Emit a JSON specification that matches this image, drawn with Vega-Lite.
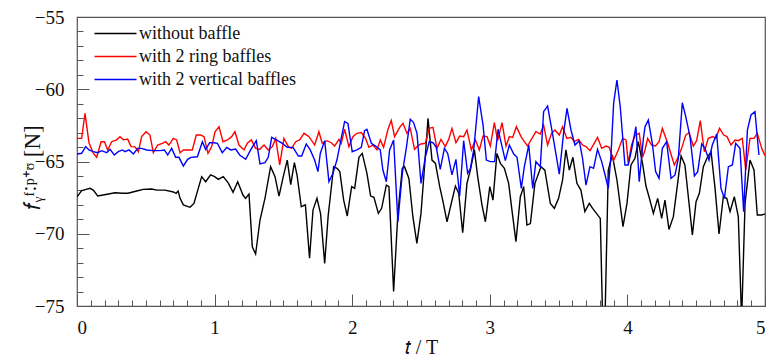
{
  "$schema": "https://vega.github.io/schema/vega-lite/v6.json",
  "width": 688,
  "height": 289,
  "autosize": "none",
  "padding": {"left": 77, "top": 17, "right": 7, "bottom": 54},
  "background": "white",
  "config": {
    "view": {"stroke": "#555555", "strokeWidth": 1.2},
    "font": "Liberation Serif",
    "axis": {
      "domain": false,
      "grid": false,
      "tickColor": "#555555",
      "tickWidth": 1,
      "labelFont": "Liberation Serif",
      "labelFontSize": 19,
      "labelColor": "#111111",
      "titleFont": "Liberation Serif",
      "titleFontSize": 20,
      "titleFontWeight": "normal",
      "titleColor": "#111111"
    },
    "legend": {
      "labelFont": "Liberation Serif",
      "labelFontSize": 18,
      "labelColor": "#111111"
    }
  },
  "data": {
    "values": [
      {"t":0.0,"v":-67.45,"s":"without baffle"},{"t":0.034,"v":-67.02,"s":"without baffle"},{"t":0.06,"v":-66.95,"s":"without baffle"},{"t":0.095,"v":-66.86,"s":"without baffle"},{"t":0.12,"v":-67.0,"s":"without baffle"},{"t":0.15,"v":-67.39,"s":"without baffle"},{"t":0.2,"v":-67.3,"s":"without baffle"},{"t":0.276,"v":-67.16,"s":"without baffle"},{"t":0.33,"v":-67.2,"s":"without baffle"},{"t":0.37,"v":-67.2,"s":"without baffle"},{"t":0.434,"v":-67.04,"s":"without baffle"},{"t":0.482,"v":-66.93,"s":"without baffle"},{"t":0.543,"v":-66.9,"s":"without baffle"},{"t":0.58,"v":-66.98,"s":"without baffle"},{"t":0.64,"v":-66.98,"s":"without baffle"},{"t":0.7,"v":-67.11,"s":"without baffle"},{"t":0.72,"v":-67.2,"s":"without baffle"},{"t":0.735,"v":-67.05,"s":"without baffle"},{"t":0.749,"v":-67.55,"s":"without baffle"},{"t":0.773,"v":-68.0,"s":"without baffle"},{"t":0.821,"v":-68.17,"s":"without baffle"},{"t":0.85,"v":-67.9,"s":"without baffle"},{"t":0.906,"v":-66.05,"s":"without baffle"},{"t":0.935,"v":-66.4,"s":"without baffle"},{"t":0.971,"v":-65.93,"s":"without baffle"},{"t":1.0,"v":-66.05,"s":"without baffle"},{"t":1.027,"v":-66.24,"s":"without baffle"},{"t":1.063,"v":-66.05,"s":"without baffle"},{"t":1.1,"v":-66.5,"s":"without baffle"},{"t":1.134,"v":-67.13,"s":"without baffle"},{"t":1.168,"v":-66.4,"s":"without baffle"},{"t":1.206,"v":-67.32,"s":"without baffle"},{"t":1.225,"v":-67.55,"s":"without baffle"},{"t":1.25,"v":-67.25,"s":"without baffle"},{"t":1.274,"v":-70.9,"s":"without baffle"},{"t":1.298,"v":-71.4,"s":"without baffle"},{"t":1.33,"v":-69.05,"s":"without baffle"},{"t":1.366,"v":-67.55,"s":"without baffle"},{"t":1.407,"v":-65.36,"s":"without baffle"},{"t":1.439,"v":-66.05,"s":"without baffle"},{"t":1.468,"v":-67.39,"s":"without baffle"},{"t":1.499,"v":-66.05,"s":"without baffle"},{"t":1.528,"v":-64.9,"s":"without baffle"},{"t":1.553,"v":-66.6,"s":"without baffle"},{"t":1.58,"v":-65.08,"s":"without baffle"},{"t":1.6,"v":-66.0,"s":"without baffle"},{"t":1.63,"v":-68.13,"s":"without baffle"},{"t":1.66,"v":-68.0,"s":"without baffle"},{"t":1.69,"v":-71.7,"s":"without baffle"},{"t":1.715,"v":-68.36,"s":"without baffle"},{"t":1.744,"v":-67.55,"s":"without baffle"},{"t":1.77,"v":-68.6,"s":"without baffle"},{"t":1.8,"v":-72.05,"s":"without baffle"},{"t":1.825,"v":-68.8,"s":"without baffle"},{"t":1.865,"v":-65.36,"s":"without baffle"},{"t":1.89,"v":-65.47,"s":"without baffle"},{"t":1.91,"v":-65.7,"s":"without baffle"},{"t":1.938,"v":-67.67,"s":"without baffle"},{"t":1.964,"v":-68.77,"s":"without baffle"},{"t":1.996,"v":-66.74,"s":"without baffle"},{"t":2.018,"v":-66.86,"s":"without baffle"},{"t":2.049,"v":-64.71,"s":"without baffle"},{"t":2.073,"v":-64.44,"s":"without baffle"},{"t":2.107,"v":-65.82,"s":"without baffle"},{"t":2.134,"v":-67.39,"s":"without baffle"},{"t":2.158,"v":-67.48,"s":"without baffle"},{"t":2.19,"v":-68.59,"s":"without baffle"},{"t":2.214,"v":-68.24,"s":"without baffle"},{"t":2.248,"v":-66.63,"s":"without baffle"},{"t":2.267,"v":-66.74,"s":"without baffle"},{"t":2.301,"v":-74.0,"s":"without baffle"},{"t":2.332,"v":-68.59,"s":"without baffle"},{"t":2.364,"v":-65.47,"s":"without baffle"},{"t":2.38,"v":-65.36,"s":"without baffle"},{"t":2.412,"v":-66.17,"s":"without baffle"},{"t":2.441,"v":-68.82,"s":"without baffle"},{"t":2.47,"v":-70.67,"s":"without baffle"},{"t":2.5,"v":-68.59,"s":"without baffle"},{"t":2.524,"v":-65.59,"s":"without baffle"},{"t":2.551,"v":-62.02,"s":"without baffle"},{"t":2.58,"v":-64.9,"s":"without baffle"},{"t":2.605,"v":-65.13,"s":"without baffle"},{"t":2.636,"v":-66.74,"s":"without baffle"},{"t":2.66,"v":-67.78,"s":"without baffle"},{"t":2.689,"v":-69.17,"s":"without baffle"},{"t":2.72,"v":-67.9,"s":"without baffle"},{"t":2.75,"v":-66.7,"s":"without baffle"},{"t":2.774,"v":-67.2,"s":"without baffle"},{"t":2.803,"v":-69.93,"s":"without baffle"},{"t":2.834,"v":-66.51,"s":"without baffle"},{"t":2.859,"v":-65.59,"s":"without baffle"},{"t":2.888,"v":-64.2,"s":"without baffle"},{"t":2.912,"v":-66.05,"s":"without baffle"},{"t":2.943,"v":-68.0,"s":"without baffle"},{"t":2.968,"v":-69.17,"s":"without baffle"},{"t":3.0,"v":-66.74,"s":"without baffle"},{"t":3.023,"v":-67.67,"s":"without baffle"},{"t":3.052,"v":-64.44,"s":"without baffle"},{"t":3.077,"v":-65.13,"s":"without baffle"},{"t":3.106,"v":-65.47,"s":"without baffle"},{"t":3.137,"v":-66.51,"s":"without baffle"},{"t":3.161,"v":-68.36,"s":"without baffle"},{"t":3.19,"v":-70.55,"s":"without baffle"},{"t":3.222,"v":-67.44,"s":"without baffle"},{"t":3.246,"v":-66.74,"s":"without baffle"},{"t":3.27,"v":-69.4,"s":"without baffle"},{"t":3.295,"v":-69.3,"s":"without baffle"},{"t":3.328,"v":-66.51,"s":"without baffle"},{"t":3.372,"v":-65.36,"s":"without baffle"},{"t":3.4,"v":-65.6,"s":"without baffle"},{"t":3.44,"v":-67.9,"s":"without baffle"},{"t":3.469,"v":-68.24,"s":"without baffle"},{"t":3.5,"v":-67.55,"s":"without baffle"},{"t":3.529,"v":-66.28,"s":"without baffle"},{"t":3.553,"v":-64.2,"s":"without baffle"},{"t":3.578,"v":-65.59,"s":"without baffle"},{"t":3.604,"v":-64.71,"s":"without baffle"},{"t":3.633,"v":-66.51,"s":"without baffle"},{"t":3.662,"v":-66.98,"s":"without baffle"},{"t":3.691,"v":-68.47,"s":"without baffle"},{"t":3.723,"v":-67.9,"s":"without baffle"},{"t":3.747,"v":-68.24,"s":"without baffle"},{"t":3.771,"v":-68.54,"s":"without baffle"},{"t":3.803,"v":-68.94,"s":"without baffle"},{"t":3.82,"v":-76.0,"s":"without baffle"},{"t":3.837,"v":-76.0,"s":"without baffle"},{"t":3.861,"v":-65.59,"s":"without baffle"},{"t":3.89,"v":-64.55,"s":"without baffle"},{"t":3.924,"v":-66.28,"s":"without baffle"},{"t":3.968,"v":-69.51,"s":"without baffle"},{"t":3.997,"v":-67.9,"s":"without baffle"},{"t":4.026,"v":-65.24,"s":"without baffle"},{"t":4.055,"v":-64.78,"s":"without baffle"},{"t":4.079,"v":-63.63,"s":"without baffle"},{"t":4.11,"v":-65.13,"s":"without baffle"},{"t":4.135,"v":-66.7,"s":"without baffle"},{"t":4.157,"v":-67.44,"s":"without baffle"},{"t":4.189,"v":-68.59,"s":"without baffle"},{"t":4.22,"v":-67.55,"s":"without baffle"},{"t":4.249,"v":-68.94,"s":"without baffle"},{"t":4.273,"v":-67.67,"s":"without baffle"},{"t":4.302,"v":-69.7,"s":"without baffle"},{"t":4.334,"v":-68.82,"s":"without baffle"},{"t":4.365,"v":-66.51,"s":"without baffle"},{"t":4.39,"v":-64.62,"s":"without baffle"},{"t":4.418,"v":-65.24,"s":"without baffle"},{"t":4.448,"v":-67.9,"s":"without baffle"},{"t":4.472,"v":-70.09,"s":"without baffle"},{"t":4.499,"v":-67.78,"s":"without baffle"},{"t":4.523,"v":-67.2,"s":"without baffle"},{"t":4.552,"v":-65.36,"s":"without baffle"},{"t":4.583,"v":-64.67,"s":"without baffle"},{"t":4.608,"v":-64.32,"s":"without baffle"},{"t":4.637,"v":-66.86,"s":"without baffle"},{"t":4.666,"v":-70.02,"s":"without baffle"},{"t":4.697,"v":-67.44,"s":"without baffle"},{"t":4.722,"v":-67.55,"s":"without baffle"},{"t":4.746,"v":-68.47,"s":"without baffle"},{"t":4.777,"v":-67.44,"s":"without baffle"},{"t":4.806,"v":-68.82,"s":"without baffle"},{"t":4.83,"v":-76.0,"s":"without baffle"},{"t":4.855,"v":-67.9,"s":"without baffle"},{"t":4.891,"v":-64.9,"s":"without baffle"},{"t":4.92,"v":-65.59,"s":"without baffle"},{"t":4.944,"v":-68.7,"s":"without baffle"},{"t":4.976,"v":-68.7,"s":"without baffle"},{"t":5.0,"v":-68.63,"s":"without baffle"},

      {"t":0.0,"v":-63.4,"s":"with 2 ring baffles"},{"t":0.034,"v":-63.4,"s":"with 2 ring baffles"},{"t":0.058,"v":-61.67,"s":"with 2 ring baffles"},{"t":0.087,"v":-63.7,"s":"with 2 ring baffles"},{"t":0.119,"v":-64.44,"s":"with 2 ring baffles"},{"t":0.143,"v":-64.71,"s":"with 2 ring baffles"},{"t":0.175,"v":-63.63,"s":"with 2 ring baffles"},{"t":0.2,"v":-63.63,"s":"with 2 ring baffles"},{"t":0.223,"v":-64.2,"s":"with 2 ring baffles"},{"t":0.252,"v":-63.63,"s":"with 2 ring baffles"},{"t":0.288,"v":-63.5,"s":"with 2 ring baffles"},{"t":0.313,"v":-63.28,"s":"with 2 ring baffles"},{"t":0.337,"v":-63.5,"s":"with 2 ring baffles"},{"t":0.368,"v":-63.45,"s":"with 2 ring baffles"},{"t":0.393,"v":-63.97,"s":"with 2 ring baffles"},{"t":0.422,"v":-63.99,"s":"with 2 ring baffles"},{"t":0.446,"v":-64.32,"s":"with 2 ring baffles"},{"t":0.47,"v":-63.28,"s":"with 2 ring baffles"},{"t":0.502,"v":-62.94,"s":"with 2 ring baffles"},{"t":0.53,"v":-63.17,"s":"with 2 ring baffles"},{"t":0.555,"v":-64.39,"s":"with 2 ring baffles"},{"t":0.586,"v":-63.86,"s":"with 2 ring baffles"},{"t":0.62,"v":-63.74,"s":"with 2 ring baffles"},{"t":0.644,"v":-63.63,"s":"with 2 ring baffles"},{"t":0.668,"v":-63.86,"s":"with 2 ring baffles"},{"t":0.7,"v":-63.4,"s":"with 2 ring baffles"},{"t":0.724,"v":-63.51,"s":"with 2 ring baffles"},{"t":0.749,"v":-64.39,"s":"with 2 ring baffles"},{"t":0.773,"v":-64.2,"s":"with 2 ring baffles"},{"t":0.821,"v":-64.2,"s":"with 2 ring baffles"},{"t":0.838,"v":-64.2,"s":"with 2 ring baffles"},{"t":0.867,"v":-63.17,"s":"with 2 ring baffles"},{"t":0.899,"v":-63.17,"s":"with 2 ring baffles"},{"t":0.923,"v":-63.28,"s":"with 2 ring baffles"},{"t":0.952,"v":-64.44,"s":"with 2 ring baffles"},{"t":0.979,"v":-63.97,"s":"with 2 ring baffles"},{"t":1.003,"v":-62.94,"s":"with 2 ring baffles"},{"t":1.032,"v":-62.59,"s":"with 2 ring baffles"},{"t":1.061,"v":-63.63,"s":"with 2 ring baffles"},{"t":1.093,"v":-63.51,"s":"with 2 ring baffles"},{"t":1.124,"v":-63.28,"s":"with 2 ring baffles"},{"t":1.148,"v":-62.94,"s":"with 2 ring baffles"},{"t":1.177,"v":-63.86,"s":"with 2 ring baffles"},{"t":1.214,"v":-64.2,"s":"with 2 ring baffles"},{"t":1.238,"v":-63.74,"s":"with 2 ring baffles"},{"t":1.267,"v":-63.51,"s":"with 2 ring baffles"},{"t":1.298,"v":-64.09,"s":"with 2 ring baffles"},{"t":1.328,"v":-64.16,"s":"with 2 ring baffles"},{"t":1.359,"v":-63.86,"s":"with 2 ring baffles"},{"t":1.39,"v":-64.2,"s":"with 2 ring baffles"},{"t":1.42,"v":-63.97,"s":"with 2 ring baffles"},{"t":1.444,"v":-63.4,"s":"with 2 ring baffles"},{"t":1.473,"v":-65.24,"s":"with 2 ring baffles"},{"t":1.504,"v":-63.4,"s":"with 2 ring baffles"},{"t":1.536,"v":-63.97,"s":"with 2 ring baffles"},{"t":1.56,"v":-64.09,"s":"with 2 ring baffles"},{"t":1.589,"v":-63.63,"s":"with 2 ring baffles"},{"t":1.618,"v":-63.51,"s":"with 2 ring baffles"},{"t":1.65,"v":-63.05,"s":"with 2 ring baffles"},{"t":1.686,"v":-63.28,"s":"with 2 ring baffles"},{"t":1.727,"v":-63.86,"s":"with 2 ring baffles"},{"t":1.758,"v":-62.94,"s":"with 2 ring baffles"},{"t":1.782,"v":-63.74,"s":"with 2 ring baffles"},{"t":1.816,"v":-63.56,"s":"with 2 ring baffles"},{"t":1.848,"v":-63.7,"s":"with 2 ring baffles"},{"t":1.872,"v":-63.93,"s":"with 2 ring baffles"},{"t":1.904,"v":-63.47,"s":"with 2 ring baffles"},{"t":1.92,"v":-63.74,"s":"with 2 ring baffles"},{"t":1.945,"v":-62.77,"s":"with 2 ring baffles"},{"t":1.976,"v":-63.97,"s":"with 2 ring baffles"},{"t":2.005,"v":-63.28,"s":"with 2 ring baffles"},{"t":2.034,"v":-63.05,"s":"with 2 ring baffles"},{"t":2.066,"v":-63.0,"s":"with 2 ring baffles"},{"t":2.097,"v":-63.4,"s":"with 2 ring baffles"},{"t":2.121,"v":-64.02,"s":"with 2 ring baffles"},{"t":2.15,"v":-63.86,"s":"with 2 ring baffles"},{"t":2.18,"v":-64.2,"s":"with 2 ring baffles"},{"t":2.204,"v":-63.51,"s":"with 2 ring baffles"},{"t":2.228,"v":-64.02,"s":"with 2 ring baffles"},{"t":2.26,"v":-62.77,"s":"with 2 ring baffles"},{"t":2.284,"v":-62.17,"s":"with 2 ring baffles"},{"t":2.308,"v":-63.28,"s":"with 2 ring baffles"},{"t":2.345,"v":-62.64,"s":"with 2 ring baffles"},{"t":2.369,"v":-62.36,"s":"with 2 ring baffles"},{"t":2.398,"v":-63.05,"s":"with 2 ring baffles"},{"t":2.422,"v":-62.71,"s":"with 2 ring baffles"},{"t":2.453,"v":-64.16,"s":"with 2 ring baffles"},{"t":2.48,"v":-63.9,"s":"with 2 ring baffles"},{"t":2.5,"v":-63.79,"s":"with 2 ring baffles"},{"t":2.532,"v":-63.74,"s":"with 2 ring baffles"},{"t":2.56,"v":-62.71,"s":"with 2 ring baffles"},{"t":2.587,"v":-62.64,"s":"with 2 ring baffles"},{"t":2.616,"v":-64.09,"s":"with 2 ring baffles"},{"t":2.645,"v":-63.47,"s":"with 2 ring baffles"},{"t":2.677,"v":-63.97,"s":"with 2 ring baffles"},{"t":2.701,"v":-63.47,"s":"with 2 ring baffles"},{"t":2.725,"v":-62.71,"s":"with 2 ring baffles"},{"t":2.754,"v":-63.7,"s":"with 2 ring baffles"},{"t":2.781,"v":-63.24,"s":"with 2 ring baffles"},{"t":2.81,"v":-63.28,"s":"with 2 ring baffles"},{"t":2.834,"v":-62.82,"s":"with 2 ring baffles"},{"t":2.866,"v":-64.2,"s":"with 2 ring baffles"},{"t":2.895,"v":-63.51,"s":"with 2 ring baffles"},{"t":2.924,"v":-64.2,"s":"with 2 ring baffles"},{"t":2.951,"v":-63.24,"s":"with 2 ring baffles"},{"t":2.98,"v":-63.28,"s":"with 2 ring baffles"},{"t":3.004,"v":-63.93,"s":"with 2 ring baffles"},{"t":3.033,"v":-62.31,"s":"with 2 ring baffles"},{"t":3.057,"v":-63.56,"s":"with 2 ring baffles"},{"t":3.089,"v":-62.31,"s":"with 2 ring baffles"},{"t":3.118,"v":-63.93,"s":"with 2 ring baffles"},{"t":3.142,"v":-63.28,"s":"with 2 ring baffles"},{"t":3.166,"v":-63.33,"s":"with 2 ring baffles"},{"t":3.193,"v":-62.59,"s":"with 2 ring baffles"},{"t":3.227,"v":-63.28,"s":"with 2 ring baffles"},{"t":3.251,"v":-63.63,"s":"with 2 ring baffles"},{"t":3.275,"v":-63.93,"s":"with 2 ring baffles"},{"t":3.3,"v":-63.5,"s":"with 2 ring baffles"},{"t":3.335,"v":-62.94,"s":"with 2 ring baffles"},{"t":3.367,"v":-63.1,"s":"with 2 ring baffles"},{"t":3.391,"v":-62.48,"s":"with 2 ring baffles"},{"t":3.42,"v":-63.86,"s":"with 2 ring baffles"},{"t":3.449,"v":-63.05,"s":"with 2 ring baffles"},{"t":3.473,"v":-62.82,"s":"with 2 ring baffles"},{"t":3.505,"v":-63.17,"s":"with 2 ring baffles"},{"t":3.529,"v":-62.59,"s":"with 2 ring baffles"},{"t":3.56,"v":-63.4,"s":"with 2 ring baffles"},{"t":3.59,"v":-63.33,"s":"with 2 ring baffles"},{"t":3.614,"v":-63.63,"s":"with 2 ring baffles"},{"t":3.643,"v":-63.47,"s":"with 2 ring baffles"},{"t":3.674,"v":-63.86,"s":"with 2 ring baffles"},{"t":3.699,"v":-63.97,"s":"with 2 ring baffles"},{"t":3.728,"v":-64.25,"s":"with 2 ring baffles"},{"t":3.759,"v":-63.74,"s":"with 2 ring baffles"},{"t":3.783,"v":-63.33,"s":"with 2 ring baffles"},{"t":3.813,"v":-64.09,"s":"with 2 ring baffles"},{"t":3.844,"v":-63.93,"s":"with 2 ring baffles"},{"t":3.868,"v":-64.02,"s":"with 2 ring baffles"},{"t":3.9,"v":-64.94,"s":"with 2 ring baffles"},{"t":3.934,"v":-64.2,"s":"with 2 ring baffles"},{"t":3.965,"v":-63.4,"s":"with 2 ring baffles"},{"t":3.99,"v":-63.51,"s":"with 2 ring baffles"},{"t":4.006,"v":-65.13,"s":"with 2 ring baffles"},{"t":4.03,"v":-63.86,"s":"with 2 ring baffles"},{"t":4.057,"v":-63.17,"s":"with 2 ring baffles"},{"t":4.086,"v":-63.05,"s":"with 2 ring baffles"},{"t":4.11,"v":-64.71,"s":"with 2 ring baffles"},{"t":4.128,"v":-64.2,"s":"with 2 ring baffles"},{"t":4.147,"v":-63.4,"s":"with 2 ring baffles"},{"t":4.176,"v":-63.86,"s":"with 2 ring baffles"},{"t":4.205,"v":-63.93,"s":"with 2 ring baffles"},{"t":4.23,"v":-63.63,"s":"with 2 ring baffles"},{"t":4.254,"v":-62.71,"s":"with 2 ring baffles"},{"t":4.293,"v":-63.74,"s":"with 2 ring baffles"},{"t":4.317,"v":-64.5,"s":"with 2 ring baffles"},{"t":4.341,"v":-65.24,"s":"with 2 ring baffles"},{"t":4.37,"v":-64.67,"s":"with 2 ring baffles"},{"t":4.394,"v":-64.09,"s":"with 2 ring baffles"},{"t":4.424,"v":-63.17,"s":"with 2 ring baffles"},{"t":4.448,"v":-63.0,"s":"with 2 ring baffles"},{"t":4.479,"v":-63.93,"s":"with 2 ring baffles"},{"t":4.503,"v":-63.56,"s":"with 2 ring baffles"},{"t":4.53,"v":-62.17,"s":"with 2 ring baffles"},{"t":4.559,"v":-64.32,"s":"with 2 ring baffles"},{"t":4.588,"v":-63.4,"s":"with 2 ring baffles"},{"t":4.62,"v":-63.28,"s":"with 2 ring baffles"},{"t":4.641,"v":-63.4,"s":"with 2 ring baffles"},{"t":4.67,"v":-62.71,"s":"with 2 ring baffles"},{"t":4.7,"v":-63.17,"s":"with 2 ring baffles"},{"t":4.724,"v":-63.28,"s":"with 2 ring baffles"},{"t":4.753,"v":-63.86,"s":"with 2 ring baffles"},{"t":4.782,"v":-63.51,"s":"with 2 ring baffles"},{"t":4.806,"v":-63.56,"s":"with 2 ring baffles"},{"t":4.835,"v":-63.4,"s":"with 2 ring baffles"},{"t":4.86,"v":-65.59,"s":"with 2 ring baffles"},{"t":4.891,"v":-63.4,"s":"with 2 ring baffles"},{"t":4.92,"v":-63.4,"s":"with 2 ring baffles"},{"t":4.944,"v":-63.05,"s":"with 2 ring baffles"},{"t":4.976,"v":-64.09,"s":"with 2 ring baffles"},{"t":5.0,"v":-64.6,"s":"with 2 ring baffles"},

      {"t":0.0,"v":-64.48,"s":"with 2 vertical baffles"},{"t":0.034,"v":-64.43,"s":"with 2 vertical baffles"},{"t":0.063,"v":-63.97,"s":"with 2 vertical baffles"},{"t":0.087,"v":-64.2,"s":"with 2 vertical baffles"},{"t":0.119,"v":-64.32,"s":"with 2 vertical baffles"},{"t":0.15,"v":-64.39,"s":"with 2 vertical baffles"},{"t":0.179,"v":-64.25,"s":"with 2 vertical baffles"},{"t":0.216,"v":-64.39,"s":"with 2 vertical baffles"},{"t":0.24,"v":-64.16,"s":"with 2 vertical baffles"},{"t":0.271,"v":-64.55,"s":"with 2 vertical baffles"},{"t":0.3,"v":-64.32,"s":"with 2 vertical baffles"},{"t":0.33,"v":-64.2,"s":"with 2 vertical baffles"},{"t":0.349,"v":-64.32,"s":"with 2 vertical baffles"},{"t":0.378,"v":-64.2,"s":"with 2 vertical baffles"},{"t":0.41,"v":-64.48,"s":"with 2 vertical baffles"},{"t":0.441,"v":-64.09,"s":"with 2 vertical baffles"},{"t":0.47,"v":-64.09,"s":"with 2 vertical baffles"},{"t":0.506,"v":-64.2,"s":"with 2 vertical baffles"},{"t":0.555,"v":-64.25,"s":"with 2 vertical baffles"},{"t":0.603,"v":-64.25,"s":"with 2 vertical baffles"},{"t":0.635,"v":-64.2,"s":"with 2 vertical baffles"},{"t":0.659,"v":-64.55,"s":"with 2 vertical baffles"},{"t":0.688,"v":-64.09,"s":"with 2 vertical baffles"},{"t":0.717,"v":-64.71,"s":"with 2 vertical baffles"},{"t":0.741,"v":-64.71,"s":"with 2 vertical baffles"},{"t":0.773,"v":-65.31,"s":"with 2 vertical baffles"},{"t":0.804,"v":-64.85,"s":"with 2 vertical baffles"},{"t":0.828,"v":-64.71,"s":"with 2 vertical baffles"},{"t":0.875,"v":-64.67,"s":"with 2 vertical baffles"},{"t":0.911,"v":-63.63,"s":"with 2 vertical baffles"},{"t":0.935,"v":-64.16,"s":"with 2 vertical baffles"},{"t":0.964,"v":-63.7,"s":"with 2 vertical baffles"},{"t":0.996,"v":-63.7,"s":"with 2 vertical baffles"},{"t":1.02,"v":-63.74,"s":"with 2 vertical baffles"},{"t":1.056,"v":-64.39,"s":"with 2 vertical baffles"},{"t":1.088,"v":-64.02,"s":"with 2 vertical baffles"},{"t":1.117,"v":-64.2,"s":"with 2 vertical baffles"},{"t":1.153,"v":-64.14,"s":"with 2 vertical baffles"},{"t":1.182,"v":-64.55,"s":"with 2 vertical baffles"},{"t":1.226,"v":-64.85,"s":"with 2 vertical baffles"},{"t":1.262,"v":-64.2,"s":"with 2 vertical baffles"},{"t":1.303,"v":-63.56,"s":"with 2 vertical baffles"},{"t":1.33,"v":-65.17,"s":"with 2 vertical baffles"},{"t":1.366,"v":-65.08,"s":"with 2 vertical baffles"},{"t":1.39,"v":-64.71,"s":"with 2 vertical baffles"},{"t":1.415,"v":-63.33,"s":"with 2 vertical baffles"},{"t":1.449,"v":-63.51,"s":"with 2 vertical baffles"},{"t":1.492,"v":-63.74,"s":"with 2 vertical baffles"},{"t":1.528,"v":-64.02,"s":"with 2 vertical baffles"},{"t":1.57,"v":-64.02,"s":"with 2 vertical baffles"},{"t":1.609,"v":-64.62,"s":"with 2 vertical baffles"},{"t":1.633,"v":-64.62,"s":"with 2 vertical baffles"},{"t":1.666,"v":-63.79,"s":"with 2 vertical baffles"},{"t":1.695,"v":-64.2,"s":"with 2 vertical baffles"},{"t":1.727,"v":-64.9,"s":"with 2 vertical baffles"},{"t":1.751,"v":-65.7,"s":"with 2 vertical baffles"},{"t":1.768,"v":-64.44,"s":"with 2 vertical baffles"},{"t":1.8,"v":-63.56,"s":"with 2 vertical baffles"},{"t":1.831,"v":-66.4,"s":"with 2 vertical baffles"},{"t":1.86,"v":-65.82,"s":"with 2 vertical baffles"},{"t":1.889,"v":-64.9,"s":"with 2 vertical baffles"},{"t":1.92,"v":-63.4,"s":"with 2 vertical baffles"},{"t":1.945,"v":-62.24,"s":"with 2 vertical baffles"},{"t":1.969,"v":-62.36,"s":"with 2 vertical baffles"},{"t":2.0,"v":-64.32,"s":"with 2 vertical baffles"},{"t":2.034,"v":-64.2,"s":"with 2 vertical baffles"},{"t":2.066,"v":-64.02,"s":"with 2 vertical baffles"},{"t":2.09,"v":-62.87,"s":"with 2 vertical baffles"},{"t":2.107,"v":-62.77,"s":"with 2 vertical baffles"},{"t":2.139,"v":-63.74,"s":"with 2 vertical baffles"},{"t":2.17,"v":-63.93,"s":"with 2 vertical baffles"},{"t":2.204,"v":-64.2,"s":"with 2 vertical baffles"},{"t":2.223,"v":-65.59,"s":"with 2 vertical baffles"},{"t":2.248,"v":-66.4,"s":"with 2 vertical baffles"},{"t":2.272,"v":-64.2,"s":"with 2 vertical baffles"},{"t":2.301,"v":-63.51,"s":"with 2 vertical baffles"},{"t":2.332,"v":-69.17,"s":"with 2 vertical baffles"},{"t":2.364,"v":-65.82,"s":"with 2 vertical baffles"},{"t":2.393,"v":-64.09,"s":"with 2 vertical baffles"},{"t":2.422,"v":-62.08,"s":"with 2 vertical baffles"},{"t":2.446,"v":-62.31,"s":"with 2 vertical baffles"},{"t":2.471,"v":-63.05,"s":"with 2 vertical baffles"},{"t":2.5,"v":-66.51,"s":"with 2 vertical baffles"},{"t":2.532,"v":-64.67,"s":"with 2 vertical baffles"},{"t":2.56,"v":-63.63,"s":"with 2 vertical baffles"},{"t":2.587,"v":-63.7,"s":"with 2 vertical baffles"},{"t":2.611,"v":-64.02,"s":"with 2 vertical baffles"},{"t":2.64,"v":-65.54,"s":"with 2 vertical baffles"},{"t":2.67,"v":-64.09,"s":"with 2 vertical baffles"},{"t":2.694,"v":-64.44,"s":"with 2 vertical baffles"},{"t":2.725,"v":-65.93,"s":"with 2 vertical baffles"},{"t":2.754,"v":-64.85,"s":"with 2 vertical baffles"},{"t":2.781,"v":-67.39,"s":"with 2 vertical baffles"},{"t":2.81,"v":-63.56,"s":"with 2 vertical baffles"},{"t":2.839,"v":-65.82,"s":"with 2 vertical baffles"},{"t":2.859,"v":-65.47,"s":"with 2 vertical baffles"},{"t":2.883,"v":-64.2,"s":"with 2 vertical baffles"},{"t":2.919,"v":-60.51,"s":"with 2 vertical baffles"},{"t":2.951,"v":-62.48,"s":"with 2 vertical baffles"},{"t":2.975,"v":-64.9,"s":"with 2 vertical baffles"},{"t":3.004,"v":-65.01,"s":"with 2 vertical baffles"},{"t":3.035,"v":-65.01,"s":"with 2 vertical baffles"},{"t":3.06,"v":-62.77,"s":"with 2 vertical baffles"},{"t":3.089,"v":-63.97,"s":"with 2 vertical baffles"},{"t":3.113,"v":-64.94,"s":"with 2 vertical baffles"},{"t":3.142,"v":-63.86,"s":"with 2 vertical baffles"},{"t":3.174,"v":-64.48,"s":"with 2 vertical baffles"},{"t":3.198,"v":-64.71,"s":"with 2 vertical baffles"},{"t":3.229,"v":-66.86,"s":"with 2 vertical baffles"},{"t":3.251,"v":-65.36,"s":"with 2 vertical baffles"},{"t":3.283,"v":-63.86,"s":"with 2 vertical baffles"},{"t":3.312,"v":-66.86,"s":"with 2 vertical baffles"},{"t":3.335,"v":-65.01,"s":"with 2 vertical baffles"},{"t":3.367,"v":-65.36,"s":"with 2 vertical baffles"},{"t":3.391,"v":-61.55,"s":"with 2 vertical baffles"},{"t":3.42,"v":-61.16,"s":"with 2 vertical baffles"},{"t":3.449,"v":-62.71,"s":"with 2 vertical baffles"},{"t":3.48,"v":-64.44,"s":"with 2 vertical baffles"},{"t":3.505,"v":-65.87,"s":"with 2 vertical baffles"},{"t":3.536,"v":-63.05,"s":"with 2 vertical baffles"},{"t":3.561,"v":-61.32,"s":"with 2 vertical baffles"},{"t":3.59,"v":-62.82,"s":"with 2 vertical baffles"},{"t":3.619,"v":-63.86,"s":"with 2 vertical baffles"},{"t":3.65,"v":-63.56,"s":"with 2 vertical baffles"},{"t":3.674,"v":-64.78,"s":"with 2 vertical baffles"},{"t":3.699,"v":-66.63,"s":"with 2 vertical baffles"},{"t":3.728,"v":-65.36,"s":"with 2 vertical baffles"},{"t":3.754,"v":-65.47,"s":"with 2 vertical baffles"},{"t":3.783,"v":-64.16,"s":"with 2 vertical baffles"},{"t":3.813,"v":-65.01,"s":"with 2 vertical baffles"},{"t":3.837,"v":-65.9,"s":"with 2 vertical baffles"},{"t":3.861,"v":-66.86,"s":"with 2 vertical baffles"},{"t":3.88,"v":-64.67,"s":"with 2 vertical baffles"},{"t":3.9,"v":-60.98,"s":"with 2 vertical baffles"},{"t":3.924,"v":-59.36,"s":"with 2 vertical baffles"},{"t":3.948,"v":-61.21,"s":"with 2 vertical baffles"},{"t":3.982,"v":-65.24,"s":"with 2 vertical baffles"},{"t":4.006,"v":-65.24,"s":"with 2 vertical baffles"},{"t":4.03,"v":-64.2,"s":"with 2 vertical baffles"},{"t":4.062,"v":-62.59,"s":"with 2 vertical baffles"},{"t":4.086,"v":-66.4,"s":"with 2 vertical baffles"},{"t":4.115,"v":-63.51,"s":"with 2 vertical baffles"},{"t":4.128,"v":-62.6,"s":"with 2 vertical baffles"},{"t":4.152,"v":-62.13,"s":"with 2 vertical baffles"},{"t":4.181,"v":-63.74,"s":"with 2 vertical baffles"},{"t":4.205,"v":-65.7,"s":"with 2 vertical baffles"},{"t":4.23,"v":-66.17,"s":"with 2 vertical baffles"},{"t":4.254,"v":-64.09,"s":"with 2 vertical baffles"},{"t":4.285,"v":-63.63,"s":"with 2 vertical baffles"},{"t":4.317,"v":-66.17,"s":"with 2 vertical baffles"},{"t":4.346,"v":-65.93,"s":"with 2 vertical baffles"},{"t":4.37,"v":-64.78,"s":"with 2 vertical baffles"},{"t":4.399,"v":-60.93,"s":"with 2 vertical baffles"},{"t":4.424,"v":-61.9,"s":"with 2 vertical baffles"},{"t":4.455,"v":-63.28,"s":"with 2 vertical baffles"},{"t":4.487,"v":-66.0,"s":"with 2 vertical baffles"},{"t":4.511,"v":-65.7,"s":"with 2 vertical baffles"},{"t":4.54,"v":-63.79,"s":"with 2 vertical baffles"},{"t":4.564,"v":-64.09,"s":"with 2 vertical baffles"},{"t":4.593,"v":-64.9,"s":"with 2 vertical baffles"},{"t":4.617,"v":-63.86,"s":"with 2 vertical baffles"},{"t":4.649,"v":-63.1,"s":"with 2 vertical baffles"},{"t":4.68,"v":-66.86,"s":"with 2 vertical baffles"},{"t":4.705,"v":-67.55,"s":"with 2 vertical baffles"},{"t":4.734,"v":-65.36,"s":"with 2 vertical baffles"},{"t":4.763,"v":-65.24,"s":"with 2 vertical baffles"},{"t":4.787,"v":-63.74,"s":"with 2 vertical baffles"},{"t":4.818,"v":-64.09,"s":"with 2 vertical baffles"},{"t":4.845,"v":-68.47,"s":"with 2 vertical baffles"},{"t":4.872,"v":-62.82,"s":"with 2 vertical baffles"},{"t":4.898,"v":-61.78,"s":"with 2 vertical baffles"},{"t":4.927,"v":-61.55,"s":"with 2 vertical baffles"},{"t":4.956,"v":-64.55,"s":"with 2 vertical baffles"}
    ]
  },
  "resolve": {"axis": {"x": "independent", "y": "independent"}},
  "layer": [
    {
      "mark": {"type": "point", "opacity": 0},
      "encoding": {
        "x": {
          "field": "t", "type": "quantitative",
          "scale": {"domain": [0, 5], "nice": false, "zero": false},
          "axis": {
            "orient": "bottom", "title": null, "labels": false,
            "tickSize": -6,
            "values": [0.1,0.2,0.3,0.4,0.5,0.6,0.7,0.8,0.9,1.1,1.2,1.3,1.4,1.5,1.6,1.7,1.8,1.9,2.1,2.2,2.3,2.4,2.5,2.6,2.7,2.8,2.9,3.1,3.2,3.3,3.4,3.5,3.6,3.7,3.8,3.9,4.1,4.2,4.3,4.4,4.5,4.6,4.7,4.8,4.9]
          }
        },
        "y": {
          "field": "v", "type": "quantitative",
          "scale": {"domain": [-75, -55], "nice": false, "zero": false},
          "axis": {
            "orient": "left", "title": null, "labels": false,
            "tickSize": -6,
            "values": [-74,-73,-72,-71,-69,-68,-67,-66,-64,-63,-62,-61,-59,-58,-57,-56]
          }
        }
      }
    },
    {
      "mark": {"type": "line", "strokeWidth": 1.4, "clip": true},
      "encoding": {
        "x": {
          "field": "t", "type": "quantitative",
          "axis": {
            "orient": "bottom",
            "title": "𝑡 / T",
            "values": [0, 1, 2, 3, 4, 5],
            "format": "d",
            "tickSize": -12,
            "labelFont": "Liberation Serif",
            "labelPadding": 24,
            "titlePadding": 0
          }
        },
        "y": {
          "field": "v", "type": "quantitative",
          "axis": {
            "orient": "left",
            "title": "𝑓ᵧᶠ˸ᵖ⁺ᶷ  [N]",
            "titleFontSize": 23,
            "values": [-75, -70, -65, -60, -55],
            "format": "d",
            "tickSize": -12,
            "labelFont": "Liberation Serif",
            "labelPadding": 25,
            "titleX": -45,
            "titleY": 150,
            "titleBaseline": "middle"
          }
        },
        "color": {
          "field": "s", "type": "nominal",
          "scale": {
            "domain": ["without baffle", "with 2 ring baffles", "with 2 vertical baffles"],
            "range": ["#000000", "#ff0000", "#0000ff"]
          },
          "legend": {
            "title": null,
            "orient": "none",
            "legendX": 27,
            "legendY": 5,
            "padding": 0,
            "symbolType": "M-2,0H2",
            "symbolSize": 441,
            "symbolStrokeWidth": 1.5,
            "labelOffset": 12,
            "rowPadding": 2
          }
        }
      }
    }
  ]
}
